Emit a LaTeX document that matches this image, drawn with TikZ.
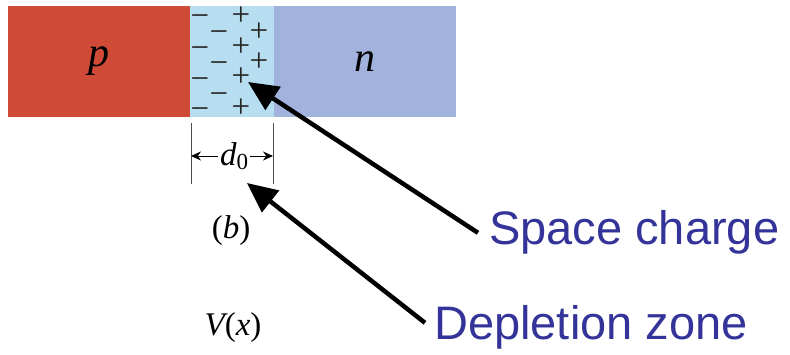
\documentclass[tikz,border=0pt]{standalone}
\usepackage{fontspec}
\setsansfont{Liberation Sans}
\newfontfamily\figfont{Liberation Serif}
\usepackage{tikz}
\usetikzlibrary{arrows.meta, positioning}
\definecolor{colP}{RGB}{208,74,56}
\definecolor{colN}{RGB}{161,178,220}
\definecolor{colDep}{RGB}{182,221,240}
\definecolor{colLabel}{RGB}{51,51,153}

\begin{document}
\begin{tikzpicture}[x=1pt, y=-1pt,
  region/.style={rectangle, inner sep=0pt, minimum height=111pt, font=\figfont\itshape\fontsize{42}{46}\selectfont},
  chg/.style={inner sep=0pt, text=black!85, font=\figfont\fontsize{33}{35}\selectfont},
  minus/.style={chg, yshift=-5pt},
  mathlbl/.style={inner sep=1pt, font=\figfont\fontsize{33}{36}\selectfont},
  lbl/.style={inner sep=0pt, anchor=base west, text=colLabel, font=\sffamily\fontsize{47}{56}\selectfont},
  ptr/.style={-{Triangle[length=30pt, width=27pt]}, line width=4.5pt},
  dim/.style={-{Stealth[length=10pt, width=9pt]}, line width=0.9pt},
]
\useasboundingbox (0,0) rectangle (790,355);

\node[region, fill=colP, minimum width=182pt] (p) at (99,61.5) {p};
\node[region, fill=colDep, minimum width=84pt] (dep) at (232,61.5) {};
\node[region, fill=colN, minimum width=182pt] (n) at (365,61.5) {n};

% charges in the depletion zone
\foreach \y [count=\i] in {16,48,79,109} \node[minus] (ma\i) at (200,\y) {−};
\foreach \y [count=\i] in {32,63,94} \node[minus] (mb\i) at (219,\y) {−};
\foreach \y [count=\i] in {16,47,77,108} \node[chg] (pa\i) at (241,\y) {+};
\foreach \y [count=\i] in {32,62} \node[chg] (pb\i) at (259,\y) {+};

% width d_0
\coordinate (barL1) at (191,123);
\coordinate (barL2) at (191,184);
\coordinate (barR1) at (273,123);
\coordinate (barR2) at (273,184);
\draw[line width=0.9pt, black!70] (barL1) -- (barL2);
\draw[line width=0.9pt, black!70] (barR1) -- (barR2);
\node[mathlbl, inner sep=2pt] (d0) at (234,156) {\itshape d\raisebox{-0.3ex}{\upshape\fontsize{23}{25}\selectfont 0}};
\draw[dim] (d0.west) -- (barL1 |- d0.west);
\draw[dim] (d0.east) -- (barR1 |- d0.east);

\node[mathlbl] (b) at (231,231) {(\itshape b\upshape)};
\node[mathlbl] (vx) at (233,328) {\itshape V\upshape(\itshape x\upshape)};

% labels
\node[lbl] (sc) at (489,245) {Space charge};
\node[lbl] (dz) at (434,340) {Depletion zone};
\coordinate (tipSc) at (248,82);
\coordinate (tipDz) at (247,183);
\draw[ptr] ([xshift=-11pt]sc.west) -- (tipSc);
\draw[ptr] ([xshift=-9pt, yshift=5pt]dz.west) -- (tipDz);

\end{tikzpicture}
\end{document}
